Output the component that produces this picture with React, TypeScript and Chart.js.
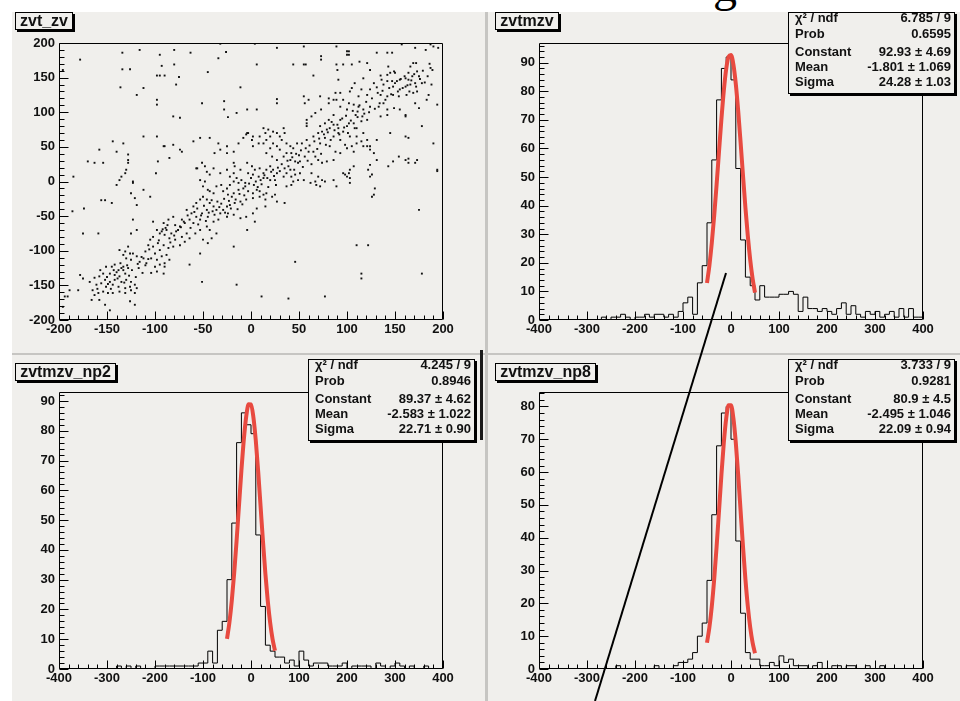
import React, { useEffect, useRef } from "react";
import { Chart, registerables } from "chart.js";

Chart.register(...registerables);

const FONT = '"Liberation Sans", Arial, Helvetica, sans-serif';
const PAD_BG = "#f0efec";

// ---------------- DATA ----------------
// zvt_zv scatter: [zv, zvt]
const SCATTER_ZV_ZVT: [number, number][] = [
  [-32,199],[4,199],[55,195],[157,198],[187,198],[190,195],[27,193],[89,195],[100,188],[102,188],[100,183],[102,183],[131,186],[142,186],[147,186],[171,193],[182,190],[195,193],[-134,186],[-116,190],[-80,190],[-63,186],[-26,187],[-34,178],[73,181],[73,176],[-178,176],[-196,161],[-95,183],[113,173],[121,171],[105,169],[96,169],[89,169],[90,161],[6,169],[44,169],[55,169],[57,169],[-80,169],[-93,167],[169,171],[172,171],[166,166],[187,164],[189,161],[143,166],[124,161],[149,159],
  [-134,162],[-126,162],[-45,158],[-98,153],[-95,153],[-90,153],[-75,151],[65,153],[91,147],[117,149],[108,142],[115,133],[135,153],[136,147],[142,154],[145,157],[150,157],[142,145],[147,145],[152,145],[155,147],[161,149],[164,157],[164,147],[168,152],[173,159],[175,152],[171,142],[178,142],[128,142],[131,136],[138,140],[148,137],[155,133],[161,137],[166,140],[124,133],[121,125],[135,125],[142,123],[148,125],[154,123],[162,125],[169,128],[173,130],[185,125],[-136,136],[-112,135],[-119,125],[-11,136],[-78,140],[105,135],[88,128],[93,128],[103,130],[112,123],[72,123],[81,120],[86,118],
  [-98,118],[-98,111],[-51,113],[-28,116],[-28,104],[27,119],[27,113],[55,123],[60,118],[56,113],[73,104],[67,99],[63,94],[58,89],[58,84],[58,80],[81,113],[89,118],[96,118],[93,108],[102,113],[107,111],[112,108],[100,104],[111,101],[117,104],[124,108],[109,96],[116,94],[121,89],[133,108],[138,113],[142,104],[149,106],[155,104],[161,94],[171,113],[175,106],[183,118],[194,111],[135,94],[142,96],[86,96],[93,89],[102,84],[107,84],[91,77],[100,80],[110,77],[-4,104],[6,104],[-81,94],[-74,92],[-24,93],[-15,99],[81,89],[77,84],[72,80],[79,75],[74,72],[82,77],[86,82],[161,96],[178,80],[145,70],
  [86,65],[91,70],[96,72],[103,65],[70,70],[65,65],[58,60],[53,55],[48,55],[77,63],[72,55],[82,51],[93,60],[98,53],[105,51],[110,55],[115,58],[110,65],[117,70],[88,43],[93,41],[100,48],[107,43],[121,51],[124,46],[128,41],[161,65],[164,63],
  [34,77],[35,70],[30,65],[32,60],[37,55],[41,51],[44,48],[42,41],[37,41],[30,46],[27,51],[23,55],[20,48],[16,41],[22,36],[27,31],[34,36],[41,31],[46,29],[49,27],[51,29],[56,36],[60,43],[65,43],[67,36],[70,31],[74,27],[79,29],[86,31],
  [13,77],[15,70],[9,65],[2,65],[1,60],[2,51],[8,55],[13,55],[16,60],[20,65],[27,70],[23,72],[18,75],
  [148,29],[154,36],[161,31],[164,33],[171,27],[190,55],[143,22],[124,51],[117,51],[121,60],[131,60],[124,24],[122,17],[103,17],[107,22],
  [-158,46],[-133,55],[-128,39],[-128,31],[-128,27],[-144,58],[-140,43],[-154,27],[-170,29],[-163,27],[-185,7],[-112,65],[-91,51],[-81,53],[-85,34],[-74,46],[-72,43],[-60,58],[-53,63],[-43,63],[-34,55],[-38,41],[-25,41],[-4,70],[-13,55],[-97,29],[-56,19],[-99,12],[-137,2],[-123,0],[-130,17],[-131,12],
  [-4,27],[1,22],[4,17],[9,19],[-3,12],[2,10],[8,7],[13,12],[16,17],[20,22],[23,17],[27,12],[13,5],[20,2],[25,2],[34,7],[37,12],[41,17],[42,7],[46,10],[51,12],[55,2],[62,-2],[67,0],[68,-5],[74,2],[70,7],[63,12],
  [-17,22],[-11,17],[-18,12],[-22,7],[-15,5],[-10,2],[-18,0],[-13,-2],[-6,-2],[-22,-5],
  [86,2],[96,12],[100,7],[89,-7],[124,7],[126,10],[128,-19],[194,17],[103,-2],[131,31],
  [-53,2],[-48,0],[-50,-7],[-45,-12],[-39,-17],[-43,-14],[-36,-7],[-31,-5],[-25,-10],[-29,-14],[-24,-19],[-18,-17],[-13,-12],[-8,-10],[-3,-14],[2,-17],[6,-12],[9,-14],[13,-19],[16,-17],[22,-22],[25,-19],[2,-24],[-5,-26],[-11,-29],[-17,-31],[-22,-34],[-25,-36],[-29,-41],[-24,-46],[-18,-48],[-25,-51],[-32,-46],[-36,-41],[-39,-36],[-43,-31],[-46,-26],[-50,-22],[-53,-26],[-57,-31],[-60,-36],
  [-46,-41],[-51,-46],[-57,-51],[-62,-46],[-67,-41],[-64,-55],[-69,-60],[-72,-55],[-74,-65],[-79,-63],[-60,-60],[-53,-55],[-45,-51],[-39,-58],[-34,-55],[-46,-65],[-53,-70],[-58,-75],[-43,-70],[-36,-75],[-50,-84],[-41,-82],[-45,-89],
  [2,-46],[-5,-51],[-11,-53],[6,-39],[15,-36],[27,-29],[-4,-70],[4,-58],[-18,-94],
  [-81,-51],[-86,-55],[-91,-60],[-88,-70],[-83,-75],[-78,-72],[-72,-80],[-67,-75],[-64,-82],[-69,-87],[-74,-92],[-79,-84],[-85,-82],[-90,-77],[-95,-75],[-98,-70],[-102,-80],[-105,-84],[-107,-92],[-102,-94],[-97,-89],[-91,-92],[-86,-96],[-81,-94],[-95,-99],[-100,-104],[-104,-111],[-98,-113],[-93,-108],[-88,-106],[-85,-113],[-90,-118],[-95,-120],[-100,-123],[-109,-118],[-112,-111],[-116,-116],[-119,-108],[-123,-104],[-125,-113],
  [-104,-132],[-98,-130],[-91,-133],[-90,-123],[-53,-104],[-64,-120],[-119,-70],[-125,-75],[-131,-101],[-128,-94],[-137,-99],[-133,-106],[-130,-111],[-126,-104],
  [-142,-120],[-145,-123],[-138,-128],[-133,-123],[-128,-125],[-131,-133],[-137,-137],[-142,-135],[-147,-133],[-151,-123],[-154,-133],[-158,-137],[-152,-142],[-147,-145],[-142,-142],[-135,-145],[-130,-142],[-125,-145],[-121,-149],[-126,-152],[-131,-154],[-138,-152],[-144,-149],[-151,-152],[-156,-147],[-161,-149],[-165,-157],[-159,-161],[-154,-159],[-149,-161],[-144,-161],[-137,-159],[-131,-161],[-125,-157],[-119,-154],[-121,-161],[-158,-171],[-152,-178],[-147,-186],[-163,-164],[-166,-171],[-126,-173],[-121,-178],
  [-178,-135],[-175,-140],[-180,-157],[-189,-157],[-194,-166],[-196,-181],[-191,-166],
  [-175,-75],[-159,-75],[-174,-39],[-152,-27],[-145,-31],[-186,-43],[-123,-2],[-121,-24],[-123,-55],[-105,-22],[-102,-58],[-51,-145],[-15,-149],[11,-166],[39,-169],[77,-166],[46,-116],[110,-92],[122,-92],[115,-133],[115,-140],[178,-133],[175,-41],[164,27],[173,31],[194,15],[126,-22],[129,-10],[35,-31],[15,-26],[9,-22],[37,-7],[42,-5],[44,0],[49,2],[72,-7],[77,0],[98,10],[102,12],[103,5],
  [-98,65],[-90,51],[-119,-34],[-125,-17],[-112,-12],[-135,7],[-140,-5],[-156,-27],
  [-32,46],[-25,51],[-18,43],[-8,63],[-3,70],[-5,68],[-57,19],[-51,27],[-48,22],[-46,14],[-43,10],[-39,19],[-32,12],[-25,17],[-18,27],
  [-135,-125],[-133,-128],[-129,-121],[-140,-131],[-118,-119],[-114,-109],[-110,-101],[-106,-98],[-96,-85],[-93,-72],[-92,-69],[-89,-67],[-87,-63],[-84,-88],[-80,-78],[-76,-70],[-73,-66],[-70,-58],[-66,-49],[-63,-67],[-59,-44],[-56,-39],[-55,-62],[-52,-49],[-49,-35],[-47,-57],[-44,-45],[-41,-27],[-40,-43],[-38,-48],[-35,-29],[-33,-37],[-31,-32],[-28,-25],[-27,-45],[-23,-28],[-21,-39],[-20,-22],[-16,-26],[-14,-40],[-12,-18],[-9,-33],[-7,-20],[-6,-7],[-2,-3],[0,5],[3,-5],[5,0],[7,-8],[10,2],[11,-4],[14,9],[17,5],[18,-8],[21,14],[24,8],[26,-5],[28,20],[30,15],[32,25],[35,19],[38,30],[39,22],[43,35],[45,17],[47,40],[50,38],[52,45],[54,21],[57,48],[59,30],[61,52],[63,25],[66,58],[69,47],[71,62],[73,40],[76,68],[78,53],[80,71],[83,60],[84,86],[87,74],[90,82],[92,68],[95,91],[97,78],[99,95],[101,70],[104,88],[106,102],[108,77],[111,93],[113,110],[115,87],[118,98],[120,115],[123,100],[126,120],[129,105],[132,128],[134,113],[137,131],[140,118],[144,135],[146,126],[150,142],[153,130],[156,148],[158,135],[160,152],[163,139],[165,130],[167,146],[170,155],[172,137],[176,148],[179,160],[181,143],[184,152],[186,170],[188,140],
  [-168,-145],[-163,-139],[-160,-155],[-157,-128],[-150,-138],[-149,-148],[-146,-155],[-143,-128],[-139,-140],[-136,-118],[-132,-146],[-127,-136],[-124,-128],[-120,-138],[-117,-125],[-113,-132],[-110,-121],[-107,-112],
];

// Histograms: 80 bins over HIST_RANGE
const HIST_RANGE = [-400, 400];
const H_ZVTMZV = [
  0,0,0,0,0,0,0,0,0,0,
  0,0,0,0,1,0,1,1,2,1,
  0,1,1,2,1,2,2,1,2,1,
  3,6,8,2,13,19,34,56,77,88,
  92,84,53,28,15,12,7,12,8,8,
  8,9,9,10,9,3,8,4,4,3,
  4,3,2,4,6,2,5,2,1,3,
  2,3,1,2,3,1,4,1,4,1,
];
const H_NP2 = [
  0,0,0,0,0,0,0,0,0,0,
  0,0,0,1,0,1,0,1,0,0,
  0,1,1,1,1,1,1,1,1,1,
  2,2,6,2,13,16,30,49,76,86,
  82,79,45,21,8,6,4,4,2,3,
  1,6,3,1,2,2,2,1,1,1,
  2,0,1,1,1,1,0,2,1,0,
  1,2,1,0,1,0,0,1,0,0,
];
const H_NP8 = [
  0,0,0,0,0,0,0,0,0,0,
  0,0,0,0,0,0,0,1,0,0,
  0,0,0,0,0,1,0,0,0,1,
  2,2,3,5,10,14,27,47,68,78,
  80,70,39,17,5,3,3,1,1,2,
  1,4,2,3,1,1,1,0,1,2,
  0,0,1,1,0,1,1,0,0,1,
  0,0,1,0,0,0,0,0,0,0,
];

// Gaussian fit curves
const FIT_X = [-50,-45,-40,-35,-30,-25,-20,-15,-10,-5,0,5,10,15,20,25,30,35,40,45,50];
const FIT_ZVTMZV = [12.96,19.09,26.97,36.49,47.34,58.87,70.17,80.17,87.78,92.13,92.67,89.35,82.58,73.15,62.10,50.53,39.41,29.47,21.11,14.50,9.55];
const FIT_NP2 = [10.11,15.62,23.00,32.27,43.12,54.90,66.60,76.97,84.73,88.87,88.79,84.52,76.65,66.22,54.51,42.75,31.92,22.73,15.41,9.95,6.12];
const FIT_NP8 = [8.01,12.70,19.14,27.40,37.27,48.14,59.10,68.92,76.36,80.38,80.39,76.37,68.94,59.12,48.17,37.29,27.42,19.16,12.72,8.02,4.81];

// y-axis upper limits
const YMAX_ZVTMZV = 96.9;
const YMAX_NP2 = 93;
const YMAX_NP8 = 84.4;

// stats boxes
const STATS_ZVTMZV: [string, string][] = [
  ["χ² / ndf", "6.785 / 9"], ["Prob", "0.6595"], ["Constant", "92.93 ± 4.69"], ["Mean", "-1.801 ± 1.069"], ["Sigma", "24.28 ± 1.03"],
];
const STATS_NP2: [string, string][] = [
  ["χ² / ndf", "4.245 / 9"], ["Prob", "0.8946"], ["Constant", "89.37 ± 4.62"], ["Mean", "-2.583 ± 1.022"], ["Sigma", "22.71 ± 0.90"],
];
const STATS_NP8: [string, string][] = [
  ["χ² / ndf", "3.733 / 9"], ["Prob", "0.9281"], ["Constant", "80.9 ± 4.5"], ["Mean", "-2.495 ± 1.046"], ["Sigma", "22.09 ± 0.94"],
];

// ---------------- CHART HELPERS ----------------
const rootAxes = {
  id: "rootAxes",
  afterDatasetsDraw(chart: any, _a: any, opts: any) {
    const { ctx, chartArea: a, scales } = chart;
    const xs = scales.x, ys = scales.y;
    ctx.save();
    ctx.strokeStyle = "#000";
    ctx.lineWidth = 1;
    ctx.beginPath();
    const L = Math.round(a.left) + 0.5, R = Math.round(a.right) - 0.5;
    const T = Math.round(a.top) + 0.5, B = Math.round(a.bottom) - 0.5;
    ctx.rect(L, T, R - L, B - T);
    const isMajor = (v: number, m: number) => Math.abs(v / m - Math.round(v / m)) < 1e-6;
    const nx = Math.round((xs.max - xs.min) / opts.xMinor);
    for (let i = 0; i <= nx; i++) {
      const v = xs.min + i * opts.xMinor;
      const px = Math.round(xs.getPixelForValue(v)) + 0.5;
      ctx.moveTo(px, B);
      ctx.lineTo(px, B - (isMajor(v, opts.xMajor) ? 8 : 4));
    }
    const ny = Math.floor((ys.max - ys.min) / opts.yMinor + 1e-6);
    for (let i = 0; i <= ny; i++) {
      const v = ys.min + i * opts.yMinor;
      const py = Math.round(ys.getPixelForValue(v)) + 0.5;
      ctx.moveTo(L, py);
      ctx.lineTo(L + (isMajor(v, opts.yMajor) ? 9 : 5), py);
    }
    ctx.stroke();
    ctx.restore();
  },
};

function scaleOpts(min: number, max: number, step: number, isX: boolean, size: number) {
  return {
    type: "linear",
    min,
    max,
    grid: { display: false, drawTicks: false },
    border: { display: false },
    ticks: {
      stepSize: step,
      includeBounds: false,
      autoSkip: false,
      maxRotation: 0,
      minRotation: 0,
      padding: isX ? 2 : 4,
      color: "#111",
      font: { family: FONT, size: 13, weight: "bold" },
    },
    afterFit: (s: any) => {
      if (isX) s.height = size;
      else s.width = size;
    },
  };
}

function baseOptions(x: any, y: any, axes: any, pad: any) {
  return {
    animation: false,
    responsive: false,
    events: [],
    layout: { padding: pad },
    plugins: { legend: { display: false }, tooltip: { enabled: false }, rootAxes: axes },
    scales: { x, y },
  };
}

function scatterConfig() {
  return {
    type: "scatter",
    data: {
      datasets: [
        {
          data: SCATTER_ZV_ZVT.map(([x, y]) => ({ x, y })),
          pointStyle: "rect",
          pointRadius: 1.35,
          pointBorderWidth: 0,
          backgroundColor: "#111",
          borderColor: "#111",
        },
      ],
    },
    options: baseOptions(
      scaleOpts(-200, 200, 50, true, 32),
      scaleOpts(-200, 200, 50, false, 47),
      { xMajor: 50, xMinor: 10, yMajor: 50, yMinor: 10 },
      { left: 0, top: 31, right: 42, bottom: 0 }
    ),
    plugins: [rootAxes],
  };
}

function histConfig(counts: number[], fit: number[], yMax: number, pad: any, yw: number) {
  const lo = HIST_RANGE[0], hi = HIST_RANGE[1];
  const w = (hi - lo) / counts.length;
  const hist = counts.map((c, i) => ({ x: lo + i * w, y: c }));
  hist.push({ x: hi, y: counts[counts.length - 1] });
  const fitPts = FIT_X.map((x, i) => ({ x, y: fit[i] }));
  return {
    type: "scatter",
    data: {
      datasets: [
        {
          data: fitPts,
          showLine: true,
          borderColor: "#e84a40",
          borderWidth: 4,
          pointRadius: 0,
          cubicInterpolationMode: "monotone",
          order: 0,
        },
        {
          data: hist,
          showLine: true,
          stepped: "after",
          borderColor: "#000",
          borderWidth: 1,
          pointRadius: 0,
          order: 1,
        },
      ],
    },
    options: baseOptions(
      scaleOpts(lo, hi, 100, true, 32),
      scaleOpts(0, yMax, 10, false, yw),
      { xMajor: 100, xMinor: 20, yMajor: 10, yMinor: 2 },
      pad
    ),
    plugins: [rootAxes],
  };
}

function ChartCanvas({ make, width, height }: { make: () => any; width: number; height: number }) {
  const ref = useRef<HTMLCanvasElement | null>(null);
  useEffect(() => {
    const chart = new Chart(ref.current as HTMLCanvasElement, make());
    return () => chart.destroy();
  }, []);
  return (
    <canvas
      ref={ref}
      width={width}
      height={height}
      style={{ position: "absolute", left: 0, top: 0, width, height }}
    />
  );
}

function TitleBox({ left, top, width, text }: { left: number; top: number; width: number; text: string }) {
  return (
    <div
      style={{
        position: "absolute",
        left,
        top,
        width,
        height: 18,
        boxSizing: "border-box",
        border: "1px solid #000",
        boxShadow: "2px 2px 0 #000",
        background: PAD_BG,
        font: `bold 16px ${FONT}`,
        lineHeight: "15px",
        color: "#111",
        textAlign: "center",
        whiteSpace: "nowrap",
        overflow: "hidden",
      }}
    >
      {text}
    </div>
  );
}

const ROW_CENTERS = [6, 22, 40, 55, 70];

function StatsBox({ left, top, rows }: { left: number; top: number; rows: [string, string][] }) {
  return (
    <div
      style={{
        position: "absolute",
        left,
        top,
        width: 167,
        height: 82,
        boxSizing: "border-box",
        border: "1px solid #000",
        boxShadow: "2px 2px 0 #000",
        background: PAD_BG,
        overflow: "hidden",
        font: `bold 13px ${FONT}`,
        color: "#111",
      }}
    >
      {rows.map(([k, v], i) => (
        <div
          key={i}
          style={{
            position: "absolute",
            left: 6,
            right: 3,
            top: ROW_CENTERS[i] - 9,
            height: 16,
            lineHeight: "16px",
            display: "flex",
            justifyContent: "space-between",
            whiteSpace: "nowrap",
          }}
        >
          <span>{k}</span>
          <span>{v}</span>
        </div>
      ))}
    </div>
  );
}

function Pad({ left, top, width, height, children }: any) {
  return (
    <div style={{ position: "absolute", left, top, width, height, background: PAD_BG }}>{children}</div>
  );
}

export default function App() {
  return (
    <div
      style={{
        position: "fixed",
        left: 0,
        top: 0,
        width: 960,
        height: 701,
        background: "#fff",
        overflow: "hidden",
      }}
    >
      <div
        style={{
          position: "absolute",
          left: 713,
          top: -39,
          font: `48px "Liberation Serif", "DejaVu Serif", serif`,
          lineHeight: "48px",
          color: "#000",
        }}
      >
        g
      </div>
      {/* separators */}
      <div style={{ position: "absolute", left: 12, top: 12, width: 948, height: 689, background: PAD_BG }} />
      <div style={{ position: "absolute", left: 485, top: 12, width: 3, height: 689, background: "#c6c5c2" }} />
      <div style={{ position: "absolute", left: 12, top: 353, width: 948, height: 2, background: "#c6c5c2" }} />

      <Pad left={12} top={12} width={473} height={340}>
        <ChartCanvas make={scatterConfig} width={473} height={340} />
      </Pad>
      <Pad left={493} top={12} width={467} height={340}>
        <ChartCanvas
          make={() => histConfig(H_ZVTMZV, FIT_ZVTMZV, YMAX_ZVTMZV, { left: 0, top: 31, right: 37, bottom: 0 }, 46)}
          width={467}
          height={340}
        />
      </Pad>
      <Pad left={12} top={358} width={473} height={343}>
        <ChartCanvas
          make={() => histConfig(H_NP2, FIT_NP2, YMAX_NP2, { left: 0, top: 34, right: 42, bottom: 0 }, 47)}
          width={473}
          height={343}
        />
      </Pad>
      <Pad left={493} top={358} width={467} height={343}>
        <ChartCanvas
          make={() => histConfig(H_NP8, FIT_NP8, YMAX_NP8, { left: 0, top: 34, right: 37, bottom: 0 }, 46)}
          width={467}
          height={343}
        />
      </Pad>

      <div style={{ position: "absolute", left: 480, top: 350, width: 3, height: 90, background: "#1a1a1a" }} />

      <TitleBox left={15} top={12} width={58} text="zvt_zv" />
      <TitleBox left={495} top={12} width={64} text="zvtmzv" />
      <TitleBox left={15} top={363} width={101} text="zvtmzv_np2" />
      <TitleBox left={495} top={363} width={101} text="zvtmzv_np8" />

      <StatsBox left={788} top={12} rows={STATS_ZVTMZV} />
      <StatsBox left={308} top={359} rows={STATS_NP2} />
      <StatsBox left={788} top={359} rows={STATS_NP8} />

      <svg
        width={960}
        height={701}
        style={{ position: "absolute", left: 0, top: 0, pointerEvents: "none" }}
      >
        <line x1={726} y1={273} x2={595} y2={701} stroke="#000" strokeWidth={2} />
      </svg>
    </div>
  );
}
